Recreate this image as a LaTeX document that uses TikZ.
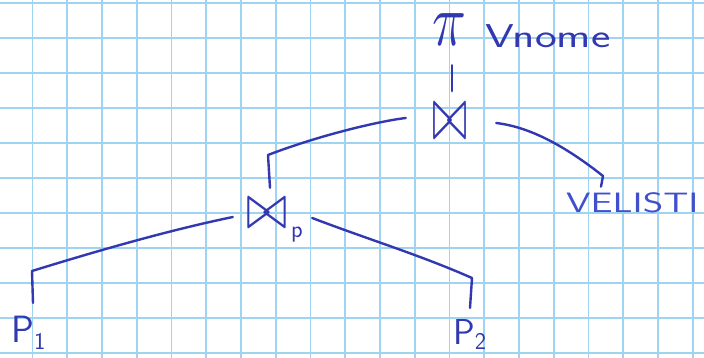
\documentclass[tikz,border=0pt]{standalone}
\usetikzlibrary{calc}
\definecolor{ink}{RGB}{50,56,176}
\definecolor{inklight}{RGB}{64,80,205}
\definecolor{gridblue}{RGB}{160,210,242}
\begin{document}
\begin{tikzpicture}[x=1pt,y=-1pt,
  inkline/.style={draw=ink, line width=2.4pt, line cap=round, line join=round},
  hand/.style={text=ink, font=\sffamily, inner sep=0pt},
  opsym/.style={text=ink, inner sep=0pt},
  gridline/.style={draw=gridblue, line width=1.7pt}]
\useasboundingbox (0,0) rectangle (704,358);
\fill[white] (0,0) rectangle (704,358);
\foreach \i in {0,...,20} \draw[gridline] ({-2.25+34.75*\i},0) -- ++(0,358);
\foreach \j in {0,...,10} \draw[gridline] (0,{2.8+35*\j}) -- ++(704,0);

% nodes
\node[opsym, minimum width=40, minimum height=36] (proj) at (449,30)
  {\scalebox{5.6}[7.4]{$\pi$}};
\node[hand, anchor=west] (attr) at (485,36)
  {\scalebox{1.4}[1]{\fontsize{33}{33}\selectfont Vnome}};
\node[opsym, minimum width=36, minimum height=34] (join1) at (450,122)
  {\scalebox{4.2}[7.6]{$\bowtie$}};
\node[opsym, minimum width=44, minimum height=30] (join2) at (267,214)
  {\scalebox{5}[6.4]{$\bowtie$}};
\node[hand] (sub) at (297,235) {\fontsize{24}{24}\selectfont p};
\node[hand, anchor=west, text=inklight] (vel) at (566,203)
  {\scalebox{1.4}[1]{\fontsize{28}{28}\selectfont VELISTI}};
\node[hand, anchor=north west] (p1) at (11,316)
  {\fontsize{38}{38}\selectfont P\raisebox{-0.18em}{\fontsize{24}{24}\selectfont 1}};
\node[hand, anchor=north west] (p2) at (453,319)
  {\fontsize{36}{36}\selectfont P\raisebox{-0.16em}{\fontsize{24}{24}\selectfont 2}};

% connectors
\draw[inkline] ($(proj.south)+(3,17)$) -- ($(join1.north)+(2,-13)$);
\draw[inkline] ($(join1.west)+(-26,-4)$) .. controls (380,121) and (320,135) .. (268,155)
  -- ($(join2.north)+(3,-11)$);
\draw[inkline] ($(join1.east)+(28,1)$) .. controls (530,127) and (565,146) .. (603,176)
  -- ($(vel.north west)+(35,-6)$);
\draw[inkline] ($(join2.west)+(-12,3)$) .. controls (170,230) and (100,250) .. (32,271)
  -- ($(p1.north west)+(22,-13)$);
\draw[inkline] ($(join2.east)+(23,4)$) .. controls (370,240) and (420,255) .. (472,278)
  -- ($(p2.north west)+(17,-11)$);
\end{tikzpicture}
\end{document}
